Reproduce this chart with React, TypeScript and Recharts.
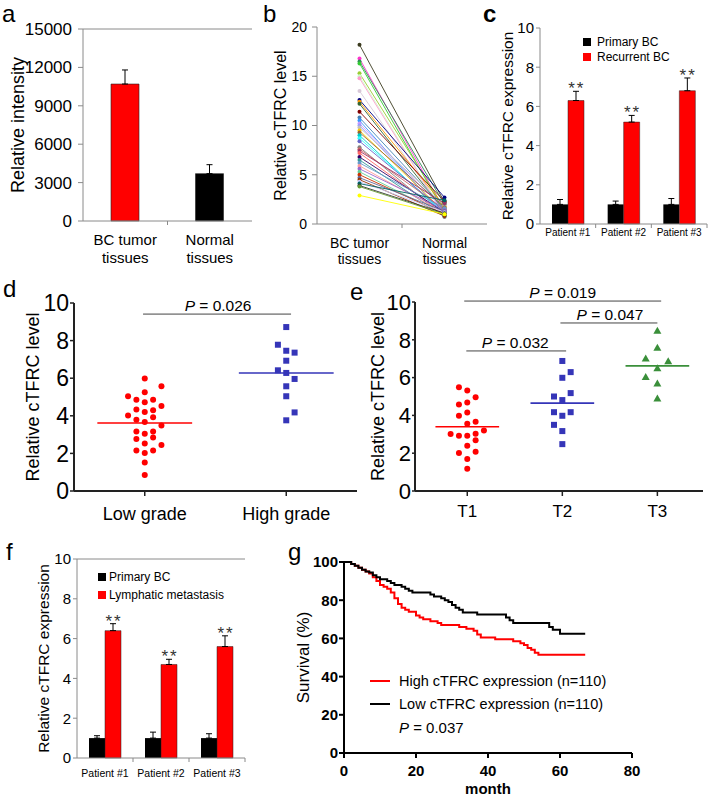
import React from "react";
import {
  BarChart,
  Bar,
  LineChart,
  Line,
  ScatterChart,
  Scatter,
  XAxis,
  YAxis,
  ErrorBar,
  ReferenceLine,
  ReferenceDot,
  Legend,
  Label,
  Cell,
} from "recharts";

const FONT = "Arial, 'Liberation Sans', Helvetica, sans-serif";
const GRAY = "#8a8a8a";
const RED = "#ff0000";
const BLUE = "#3535b8";
const GREEN = "#3a8f3a";

// a - relative intensity
const aCategories = ["BC tumor\ntissues", "Normal\ntissues"];
const aValues = [10700, 3700];
const aErrors = [1100, 700];
const aTicks = [0, 3000, 6000, 9000, 12000, 15000];

// b - paired cTFRC levels
const bCategories = ["BC tumor\ntissues", "Normal\ntissues"];
const bTumor = [
  18.2, 16.8, 16.5, 16.3, 15.3, 15.0, 14.8, 13.5, 12.6, 12.4, 12.2, 11.4, 10.8, 10.5,
  10.2, 10.0, 9.8, 9.5, 9.3, 9.0, 8.7, 8.4, 7.8, 7.6, 7.4, 7.2, 6.8, 6.5, 6.2, 5.9,
  5.6, 5.3, 5.0, 4.7, 4.5, 4.3, 4.1, 3.9, 3.8, 2.9,
];
const bNormal = [
  2.2, 1.4, 2.0, 1.2, 1.6, 1.0, 0.9, 1.1, 2.7, 1.8, 1.3, 2.3, 1.5, 0.8, 1.4, 1.0,
  1.9, 1.2, 1.7, 0.9, 1.1, 1.3, 0.7, 1.5, 2.1, 1.0, 1.2, 0.8, 1.6, 1.1, 1.4, 0.9,
  1.0, 1.3, 0.8, 1.2, 2.4, 1.1, 1.0, 1.0,
];
const bTicks = [0, 5, 10, 15, 20];
const bLineColors = [
  "#3b3b1f", "#ff33cc", "#2e8b57", "#33cc33", "#9acd32", "#ccffcc", "#ff99cc", "#d8c8d8",
  "#000080", "#ff9900", "#336633", "#800000", "#4682b4", "#3399ff", "#cc99ff", "#9999ff",
  "#c0c0c0", "#ffcc00", "#996633", "#00cccc", "#33ffff", "#6666cc", "#808080", "#cc6666",
  "#993366", "#ff6666", "#330066", "#339999", "#6699cc", "#ff9999", "#9966cc", "#66cc99",
  "#cc3300", "#666699", "#993300", "#ccccff", "#006666", "#333333", "#669933", "#ffff00",
];

// c - primary vs recurrent
const cPatients = ["Patient #1", "Patient #2", "Patient #3"];
const cPrimary = [1, 1, 1];
const cPrimaryErr = [0.25, 0.17, 0.3];
const cRecurrent = [6.3, 5.2, 6.8];
const cRecurrentErr = [0.47, 0.34, 0.65];

// d - grade
const dGroups = ["Low grade", "High grade"];
const dLowValues = [
  5.98, 5.57, 5.25, 5.04, 4.86, 4.86, 4.72, 4.52, 4.33, 4.29, 4.2, 4.01, 3.92, 3.79,
  3.67, 3.49, 3.17, 3.17, 3.05, 2.77, 2.85, 2.52, 2.45, 2.15, 2.15, 2.02, 1.52, 0.85,
];
const dLowSlots = [0, 2, 0, -2, -1, 1, 0, 2, -1, 1, 0, -2, 1, -1, 0, 2, -1, 1, 0, -1, 1, 0, 2, -1, 1, 0, 0, 0];
const dHighValues = [8.72, 7.78, 7.46, 7.36, 6.93, 6.42, 6.28, 5.96, 5.57, 5.04, 4.18, 3.76];
const dHighSlots = [0, -1, 0, 1, 0, -1, 0, 1, 0, 0, 1, 0];
const dMeans = [3.62, 6.28];

// e - T stage
const eGroups = ["T1", "T2", "T3"];
const eT1Values = [5.49, 5.32, 4.96, 4.58, 4.68, 3.98, 4.15, 3.56, 3.66, 3.2, 3.01, 2.92, 2.92, 3.03, 2.39, 2.68, 2.01, 2.08, 1.69, 1.18];
const eT1Slots = [-1, 0, 1, -1, 0, -1, 0, 0, 1, 2, -2, -1, 0, 1, 0, 1, -1, 1, 0, 0];
const eT2Values = [6.88, 6.29, 5.99, 5.18, 5.0, 4.81, 4.17, 4.17, 3.98, 3.5, 3.17, 2.48];
const eT2Slots = [0, 1, 0, 1, -1, 0, -1, 1, 0, -1, 0, 0];
const eT3Values = [8.45, 7.54, 6.97, 6.83, 6.46, 5.99, 5.65, 4.86];
const eT3Slots = [0, 0, -1.4, 1.3, 0, -1.4, 0, 0];
const eMeans = [3.4, 4.65, 6.62];

// f - primary vs lymphatic metastasis
const fPatients = ["Patient #1", "Patient #2", "Patient #3"];
const fPrimary = [1, 1, 1];
const fPrimaryErr = [0.12, 0.3, 0.22];
const fLymph = [6.4, 4.7, 5.6];
const fLymphErr = [0.35, 0.26, 0.54];

// g - survival
const gHighMonths = [0, 2, 3, 4, 5, 6, 7, 8, 9, 10, 11, 12, 13, 14, 15, 16, 17, 18, 20, 21, 22, 24, 26, 27, 32, 34, 36, 37, 38, 42, 47, 49, 50, 51, 52, 53, 54, 67];
const gHighSurv = [100, 99, 98, 97, 96, 95, 94, 92, 90, 88, 87, 86, 84, 81, 78, 76, 75, 74, 72, 71, 70, 69, 68, 67, 66, 65, 64, 62, 60.5, 59.5, 58.5, 57.5, 56.5, 55, 54, 52.5, 51.5, 51.5];
const gLowMonths = [0, 2, 3, 4, 5, 6, 7, 8, 9, 10, 12, 13, 14, 16, 17, 18, 19, 24, 25, 27, 28, 29, 30, 31, 32, 33, 37, 45, 46, 47, 57, 58, 60, 67];
const gLowSurv = [100, 99, 98, 97, 96, 95, 94.5, 93, 92, 91, 90, 89, 88, 87, 86, 85, 84, 83, 82, 81, 80, 79, 77.5, 76, 75, 73.5, 72.5, 71, 69.5, 68, 66, 64.5, 62.5, 62.5];

const tickStyle = (size: number, bold = false) => ({
  fontSize: size,
  fill: "#000",
  fontFamily: FONT,
  fontWeight: bold ? "bold" : "normal",
});

// vertical axis title, centred on the plot height
const yTitle = (text: string, size: number, cx: number) => (props: any) => {
  const vb = props.viewBox || {};
  const cy = (vb.y ?? 0) + (vb.height ?? 0) / 2;
  return (
    <text
      x={cx}
      y={cy}
      transform={`rotate(-90, ${cx}, ${cy})`}
      textAnchor="middle"
      dominantBaseline="central"
      fontSize={size}
      fontFamily={FONT}
      fill="#000"
    >
      {text}
    </text>
  );
};

const pLabel = (value: string, size: number, dx = 0, gap = 3) => (props: any) => {
  const vb = props.viewBox || {};
  const x0 = vb.x1 !== undefined ? Math.min(vb.x1, vb.x2) : vb.x ?? 0;
  const w = vb.x1 !== undefined ? Math.abs(vb.x2 - vb.x1) : vb.width ?? 0;
  const y0 = vb.y1 !== undefined ? vb.y1 : vb.y ?? 0;
  return (
    <text x={x0 + w / 2 + dx} y={y0 - gap} textAnchor="middle" fontSize={size} fontFamily={FONT} fill="#000">
      <tspan fontStyle="italic">P</tspan> = {value}
    </text>
  );
};

const starLabel = (dx: number) => (props: any) => {
  const vb = props.viewBox || {};
  const x = (vb.x ?? 0) + (vb.width ?? 0) / 2 + dx;
  const y = (vb.y ?? 0) + (vb.height ?? 0) / 2;
  return (
    <text x={x + 1} y={y + 3} textAnchor="middle" fontSize={17} fontFamily={FONT} fill="#333" letterSpacing={2}>
      **
    </text>
  );
};

// category tick: label lines at band centre, tick marks on band edges
const catTick = (bw: number, size: number, dy: number, gap: number, last: number) => (props: any) => {
  const { x, y, payload, index } = props;
  const lines = String(payload.value).split("\n");
  return (
    <g>
      {index > 0 && <line x1={x - bw / 2} x2={x - bw / 2} y1={y} y2={y + 4} stroke={GRAY} />}
      {index === last && <line x1={x + bw / 2} x2={x + bw / 2} y1={y} y2={y + 4} stroke={GRAY} />}
      <text x={x} y={y + dy} textAnchor="middle" fontSize={size} fontFamily={FONT} fill="#000">
        {lines.map((l, i) => (
          <tspan key={i} x={x} dy={i === 0 ? 0 : gap}>
            {l}
          </tspan>
        ))}
      </text>
    </g>
  );
};

const squareLegend = (size: number, rowH: number, sq: number, gapPx: number, order: string[]) => (props: any) => {
  const items = [...(props.payload || [])].sort(
    (u: any, v: any) => order.indexOf(u.value) - order.indexOf(v.value)
  );
  return (
    <div style={{ fontFamily: FONT, fontSize: size, color: "#000" }}>
      {items.map((p: any, i: number) => (
        <div key={i} style={{ display: "flex", alignItems: "center", height: rowH, whiteSpace: "nowrap" }}>
          <span style={{ display: "inline-block", width: sq, height: sq, background: p.color, marginRight: gapPx }} />
          <span>{p.value}</span>
        </div>
      ))}
    </div>
  );
};

const kmLegend = (props: any) => (
  <div style={{ fontFamily: FONT, fontSize: 14.5, color: "#000" }}>
    {(props.payload || []).map((p: any, i: number) => (
      <div key={i} style={{ display: "flex", alignItems: "center", height: 23.5, whiteSpace: "nowrap" }}>
        <span style={{ display: "inline-block", width: 20, height: 0, borderTop: `2px solid ${p.color}`, marginRight: 9 }} />
        <span>{p.value}</span>
      </div>
    ))}
    <div style={{ display: "flex", alignItems: "center", height: 23.5, paddingLeft: 29, fontSize: 15, whiteSpace: "nowrap" }}>
      <i>P</i>&nbsp;= 0.037
    </div>
  </div>
);

const circleShape = (color: string, r: number) => (p: any) => <circle cx={p.cx} cy={p.cy} r={r} fill={color} />;
const squareShape = (color: string, s: number) => (p: any) => (
  <rect x={p.cx - s / 2} y={p.cy - s / 2} width={s} height={s} fill={color} />
);
const triangleShape = (color: string, w: number, h: number) => (p: any) => (
  <polygon
    points={`${p.cx},${p.cy - (2 * h) / 3} ${p.cx - w / 2},${p.cy + h / 3} ${p.cx + w / 2},${p.cy + h / 3}`}
    fill={color}
  />
);

function PanelA() {
  const data = aCategories.map((name, i) => ({ name, value: aValues[i], err: [0, aErrors[i]] }));
  const bw = (256 - 4 - 83) / aCategories.length;
  return (
    <BarChart width={256} height={275} data={data} margin={{ top: 29, right: 4, bottom: 0, left: 0 }}>
      <XAxis
        dataKey="name"
        height={54}
        tickSize={0}
        tickMargin={0}
        tickLine={false}
        interval={0}
        axisLine={{ stroke: GRAY }}
        tick={catTick(bw, 15, 24, 18, -1)}
      />
      <XAxis xAxisId="n" type="number" domain={[0, 2]} hide />
      <YAxis
        width={83}
        domain={[0, 15000]}
        ticks={aTicks}
        interval={0}
        tickSize={5}
        tickMargin={6}
        axisLine={{ stroke: GRAY }}
        tickLine={{ stroke: GRAY }}
        tick={tickStyle(17)}
      >
        <Label content={yTitle("Relative intensity", 18, 18)} />
      </YAxis>
      <ReferenceLine y={15000} stroke={GRAY} />
      <ReferenceLine xAxisId="n" x={2} stroke={GRAY} />
      <ReferenceLine
        xAxisId="n"
        segment={[{ x: 0.44, y: 12500 }, { x: 1.55, y: 12500 }]}
        stroke="#555"
        label={pLabel("0.0037", 13, 4)}
      />
      <Bar dataKey="value" barSize={28} stroke="#222" strokeWidth={0.6} isAnimationActive={false}>
        {data.map((d, i) => (
          <Cell key={i} fill={i === 0 ? RED : "#000"} />
        ))}
        <ErrorBar dataKey="err" width={3} stroke="#000" strokeWidth={1} direction="y" />
      </Bar>
    </BarChart>
  );
}

function PanelB() {
  const data = bCategories.map((name, c) => {
    const row: any = { name };
    (c === 0 ? bTumor : bNormal).forEach((v, i) => {
      row[`s${i}`] = v;
    });
    return row;
  });
  return (
    <LineChart width={250} height={275} data={data} margin={{ top: 27, right: 3, bottom: 0, left: 0 }}>
      <XAxis
        dataKey="name"
        height={51}
        padding={{ left: 42.5, right: 42.5 }}
        tickSize={0}
        tickMargin={0}
        tickLine={false}
        interval={0}
        axisLine={{ stroke: GRAY }}
        tick={catTick(85, 14, 24, 16, -1)}
      />
      <XAxis xAxisId="n" type="number" domain={[0, 2]} hide />
      <YAxis
        width={77}
        domain={[0, 20]}
        ticks={bTicks}
        interval={0}
        tickSize={5}
        tickMargin={5}
        axisLine={{ stroke: GRAY }}
        tickLine={{ stroke: GRAY }}
        tick={tickStyle(14)}
      >
        <Label content={yTitle("Relative cTFRC level", 16, 40)} />
      </YAxis>
      <ReferenceLine
        xAxisId="n"
        segment={[{ x: 0.447, y: 18.9 }, { x: 1.54, y: 18.9 }]}
        stroke="#555"
        label={pLabel("0.0023", 13, 5)}
      />
      {bTumor.map((_, i) => (
        <Line
          key={i}
          dataKey={`s${i}`}
          stroke={bLineColors[i]}
          strokeWidth={0.9}
          dot={{ r: 2, fill: bLineColors[i], stroke: bLineColors[i], strokeWidth: 0 }}
          isAnimationActive={false}
        />
      ))}
    </LineChart>
  );
}

function PairedBars(props: {
  width: number;
  right: number;
  top: number;
  height: number;
  xh: number;
  yw: number;
  patients: string[];
  primary: number[];
  primaryErr: number[];
  second: number[];
  secondErr: number[];
  secondName: string;
  tickFont: number;
  catFont: number;
  catDy: number;
  title: string;
  titleSize: number;
  titleX: number;
  legendLeft: number;
  legendTop: number;
  legendRow: number;
  legendSq: number;
  legendGap: number;
  frame: boolean;
}) {
  const p = props;
  const data = p.patients.map((name, i) => ({
    name,
    primary: p.primary[i],
    primaryErr: [0, p.primaryErr[i]],
    second: p.second[i],
    secondErr: [0, p.secondErr[i]],
  }));
  const bw = (p.width - p.right - p.yw) / p.patients.length;
  return (
    <BarChart
      width={p.width}
      height={p.height}
      data={data}
      margin={{ top: p.top, right: p.right, bottom: 0, left: 0 }}
      barSize={16}
      barGap={0}
    >
      <XAxis
        dataKey="name"
        height={p.xh}
        tickSize={0}
        tickMargin={0}
        tickLine={false}
        interval={0}
        axisLine={{ stroke: GRAY }}
        tick={catTick(bw, p.catFont, p.catDy, 0, p.patients.length - 1)}
      />
      <XAxis xAxisId="n" type="number" domain={[0, 3]} hide />
      <YAxis
        width={p.yw}
        domain={[0, 10]}
        ticks={[0, 2, 4, 6, 8, 10]}
        interval={0}
        tickSize={4}
        tickMargin={2}
        axisLine={{ stroke: GRAY }}
        tickLine={{ stroke: GRAY }}
        tick={tickStyle(p.tickFont)}
      >
        <Label content={yTitle(p.title, p.titleSize, p.titleX)} />
      </YAxis>
      {p.frame && <ReferenceLine y={10} stroke={GRAY} />}
      {p.frame && <ReferenceLine xAxisId="n" x={3} stroke={GRAY} />}
      <Legend
        layout="vertical"
        align="center"
        verticalAlign="middle"
        content={squareLegend(12, p.legendRow, p.legendSq, p.legendGap, ["Primary BC", p.secondName])}
        wrapperStyle={{ left: p.legendLeft, top: p.legendTop, width: 150, height: "auto" }}
      />
      <Bar dataKey="primary" name="Primary BC" fill="#000" isAnimationActive={false}>
        <ErrorBar dataKey="primaryErr" width={3} stroke="#000" strokeWidth={1} direction="y" />
      </Bar>
      <Bar dataKey="second" name={p.secondName} fill={RED} stroke="#222" strokeWidth={0.5} isAnimationActive={false}>
        <ErrorBar dataKey="secondErr" width={3} stroke="#000" strokeWidth={1} direction="y" />
      </Bar>
      {p.patients.map((name, i) => (
        <ReferenceDot
          key={name}
          x={name}
          y={p.second[i] + p.secondErr[i]}
          r={1}
          fill="none"
          stroke="none"
          label={starLabel(8)}
        />
      ))}
    </BarChart>
  );
}

function PanelD() {
  const slot = 0.059;
  const low = dLowValues.map((y, i) => ({ x: 0.5 + dLowSlots[i] * slot, y }));
  const high = dHighValues.map((y, i) => ({ x: 1.5 + dHighSlots[i] * slot, y }));
  const colors = [RED, BLUE];
  return (
    <ScatterChart width={360} height={270} margin={{ top: 13, right: 3, bottom: 0, left: 0 }}>
      <XAxis
        type="number"
        dataKey="x"
        domain={[0, 2]}
        ticks={[0.5, 1.5]}
        interval={0}
        tickFormatter={(v: number) => dGroups[Math.floor(v)]}
        height={69}
        tickSize={5}
        tickMargin={11}
        axisLine={{ stroke: "#222", strokeWidth: 2 }}
        tickLine={{ stroke: "#222", strokeWidth: 1.5 }}
        tick={tickStyle(18)}
      />
      <YAxis
        type="number"
        dataKey="y"
        domain={[0, 10]}
        ticks={[0, 2, 4, 6, 8, 10]}
        interval={0}
        width={74}
        tickSize={4}
        tickMargin={1}
        axisLine={{ stroke: "#222", strokeWidth: 2 }}
        tickLine={{ stroke: "#222", strokeWidth: 1.5 }}
        tick={tickStyle(23)}
      >
        <Label content={yTitle("Relative cTFRC level", 18, 33)} />
      </YAxis>
      <ReferenceLine
        segment={[{ x: 0.488, y: 9.41 }, { x: 1.534, y: 9.41 }]}
        stroke="#444"
        ifOverflow="visible"
        label={pLabel("0.026", 15.5, 1)}
      />
      {dMeans.map((m, i) => (
        <ReferenceLine
          key={i}
          segment={[{ x: i + 0.5 - 0.335, y: m }, { x: i + 0.5 + 0.335, y: m }]}
          stroke={colors[i]}
          strokeWidth={1.6}
        />
      ))}
      <Scatter data={low} shape={circleShape(RED, 3)} isAnimationActive={false} />
      <Scatter data={high} shape={squareShape(BLUE, 6)} isAnimationActive={false} />
    </ScatterChart>
  );
}

function PanelE() {
  const slot = 0.0877;
  const t1 = eT1Values.map((y, i) => ({ x: 1 + eT1Slots[i] * slot, y }));
  const t2 = eT2Values.map((y, i) => ({ x: 2 + eT2Slots[i] * slot, y }));
  const t3 = eT3Values.map((y, i) => ({ x: 3 + eT3Slots[i] * slot, y }));
  const colors = [RED, BLUE, GREEN];
  return (
    <ScatterChart width={359} height={285} margin={{ top: 27, right: 6, bottom: 0, left: 0 }}>
      <XAxis
        type="number"
        dataKey="x"
        domain={[0.45, 3.48]}
        ticks={[1, 2, 3]}
        interval={0}
        tickFormatter={(v: number) => eGroups[v - 1]}
        height={69}
        tickSize={5}
        tickMargin={9}
        axisLine={{ stroke: "#222", strokeWidth: 2 }}
        tickLine={{ stroke: "#222", strokeWidth: 1.5 }}
        tick={tickStyle(17)}
      />
      <YAxis
        type="number"
        dataKey="y"
        domain={[0, 10]}
        ticks={[0, 2, 4, 6, 8, 10]}
        interval={0}
        width={65}
        tickSize={3}
        tickMargin={1}
        axisLine={{ stroke: "#222", strokeWidth: 2 }}
        tickLine={{ stroke: "#222", strokeWidth: 1.5 }}
        tick={tickStyle(22)}
      >
        <Label content={yTitle("Relative cTFRC level", 18, 28)} />
      </YAxis>
      <ReferenceLine
        segment={[{ x: 0.968, y: 10.05 }, { x: 3.04, y: 10.05 }]}
        stroke="#444"
        ifOverflow="visible"
        label={pLabel("0.019", 15.5, 0)}
      />
      <ReferenceLine
        segment={[{ x: 1.98, y: 8.89 }, { x: 3.0, y: 8.89 }]}
        stroke="#444"
        ifOverflow="visible"
        label={pLabel("0.047", 15.5, 1)}
      />
      <ReferenceLine
        segment={[{ x: 0.99, y: 7.41 }, { x: 2.04, y: 7.41 }]}
        stroke="#444"
        ifOverflow="visible"
        label={pLabel("0.032", 15.5, -1)}
      />
      {eMeans.map((m, i) => (
        <ReferenceLine
          key={i}
          segment={[{ x: i + 1 - 0.335, y: m }, { x: i + 1 + 0.335, y: m }]}
          stroke={colors[i]}
          strokeWidth={1.6}
        />
      ))}
      <Scatter data={t1} shape={circleShape(RED, 3)} isAnimationActive={false} />
      <Scatter data={t2} shape={squareShape(BLUE, 6)} isAnimationActive={false} />
      <Scatter data={t3} shape={triangleShape(GREEN, 8, 7)} isAnimationActive={false} />
    </ScatterChart>
  );
}

function PanelG() {
  const high = gHighMonths.map((m, i) => ({ m, s: gHighSurv[i] }));
  const low = gLowMonths.map((m, i) => ({ m, s: gLowSurv[i] }));
  return (
    <LineChart width={459} height={252} margin={{ top: 17, right: 77, bottom: 0, left: 0 }}>
      <XAxis
        type="number"
        dataKey="m"
        domain={[0, 80]}
        ticks={[0, 20, 40, 60, 80]}
        interval={0}
        height={44}
        tickSize={5}
        tickMargin={7}
        axisLine={{ stroke: "#000", strokeWidth: 2 }}
        tickLine={{ stroke: "#000", strokeWidth: 2 }}
        tick={tickStyle(15, true)}
      >
        <Label
          content={(props: any) => {
            const vb = props.viewBox || {};
            return (
              <text
                x={(vb.x ?? 0) + (vb.width ?? 0) / 2}
                y={(vb.y ?? 0) + 41}
                textAnchor="middle"
                fontSize={15}
                fontWeight="bold"
                fontFamily={FONT}
                fill="#000"
              >
                month
              </text>
            );
          }}
        />
      </XAxis>
      <YAxis
        type="number"
        domain={[0, 100]}
        ticks={[0, 20, 40, 60, 80, 100]}
        interval={0}
        width={94}
        tickSize={5}
        tickMargin={1}
        axisLine={{ stroke: "#000", strokeWidth: 2 }}
        tickLine={{ stroke: "#000", strokeWidth: 2 }}
        tick={tickStyle(15, true)}
      >
        <Label content={yTitle("Survival (%)", 17, 53)} />
      </YAxis>
      <Legend
        layout="vertical"
        align="center"
        verticalAlign="middle"
        content={kmLegend}
        wrapperStyle={{ left: 120, top: 124, width: 260, height: "auto" }}
      />
      <Line
        data={high}
        dataKey="s"
        type="stepAfter"
        name="High cTFRC expression (n=110)"
        stroke={RED}
        strokeWidth={2}
        dot={false}
        isAnimationActive={false}
      />
      <Line
        data={low}
        dataKey="s"
        type="stepAfter"
        name="Low cTFRC expression (n=110)"
        stroke="#000"
        strokeWidth={2}
        dot={false}
        isAnimationActive={false}
      />
    </LineChart>
  );
}

const letterStyle = (left: number, top: number, bold = false): React.CSSProperties => ({
  position: "absolute",
  left,
  top,
  fontSize: 24,
  lineHeight: "normal",
  fontFamily: FONT,
  fontWeight: bold ? "bold" : "normal",
  color: "#000",
});

const place = (left: number, top: number): React.CSSProperties => ({ position: "absolute", left, top });

export default function App() {
  return (
    <div
      style={{
        position: "absolute",
        left: 0,
        top: 0,
        width: 709,
        height: 797,
        background: "#fff",
        fontFamily: FONT,
        overflow: "hidden",
      }}
    >
      <div style={place(0, 0)}>
        <PanelA />
      </div>
      <div style={place(240, 0)}>
        <PanelB />
      </div>
      <div style={place(470, 0)}>
        <PairedBars
          width={239}
          right={2}
          top={28}
          height={275}
          xh={51}
          yw={70}
          patients={cPatients}
          primary={cPrimary}
          primaryErr={cPrimaryErr}
          second={cRecurrent}
          secondErr={cRecurrentErr}
          secondName="Recurrent BC"
          tickFont={15}
          catFont={10}
          catDy={11.5}
          title="Relative cTFRC expression"
          titleSize={15.5}
          titleX={37}
          legendLeft={113}
          legendTop={34.5}
          legendRow={15}
          legendSq={8}
          legendGap={6}
          frame={false}
        />
      </div>
      <div style={place(0, 290)}>
        <PanelD />
      </div>
      <div style={place(350, 275)}>
        <PanelE />
      </div>
      <div style={place(0, 545)}>
        <PairedBars
          width={250}
          right={5}
          top={14}
          height={252}
          xh={39}
          yw={77}
          patients={fPatients}
          primary={fPrimary}
          primaryErr={fPrimaryErr}
          second={fLymph}
          secondErr={fLymphErr}
          secondName="Lymphatic metastasis"
          tickFont={15}
          catFont={10.5}
          catDy={19}
          title="Relative cTFRC expression"
          titleSize={15.5}
          titleX={43}
          legendLeft={98}
          legendTop={23}
          legendRow={18}
          legendSq={8}
          legendGap={3}
          frame={true}
        />
      </div>
      <div style={place(250, 545)}>
        <PanelG />
      </div>

      <div style={letterStyle(2, 0)}>a</div>
      <div style={letterStyle(263, 0)}>b</div>
      <div style={letterStyle(483, 0, true)}>c</div>
      <div style={letterStyle(3, 275)}>d</div>
      <div style={letterStyle(350, 278)}>e</div>
      <div style={letterStyle(6, 538)}>f</div>
      <div style={letterStyle(288, 538)}>g</div>
    </div>
  );
}
